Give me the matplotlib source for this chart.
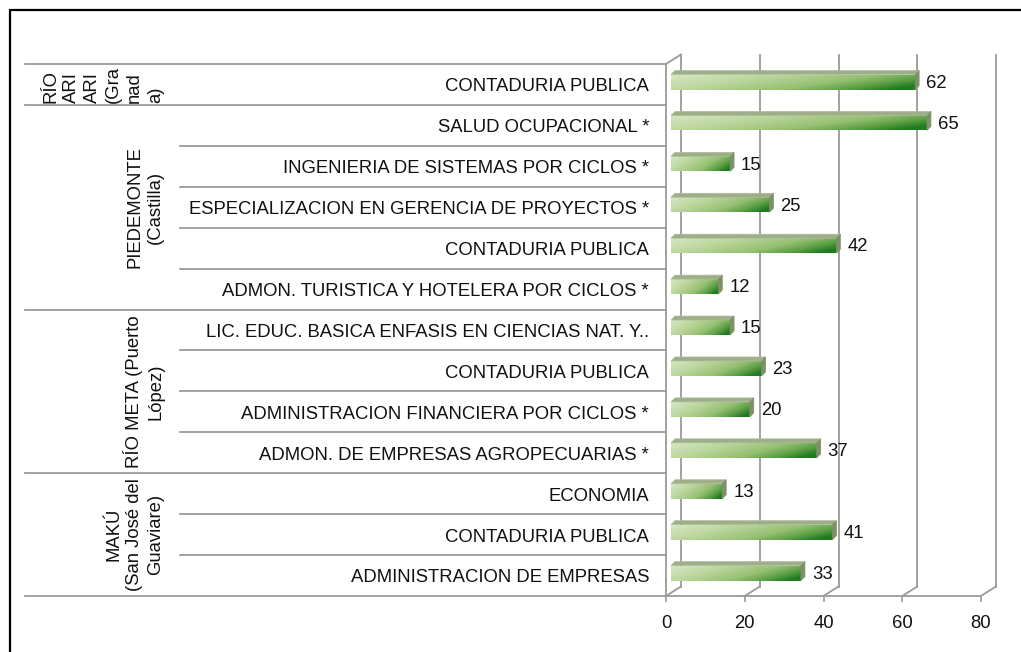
import numpy as np
import matplotlib
matplotlib.use("Agg")
import matplotlib.pyplot as plt
from matplotlib.colors import LinearSegmentedColormap
from matplotlib.patches import Polygon, Rectangle
from matplotlib.lines import Line2D

plt.rcParams["font.family"] = ["Liberation Sans", "DejaVu Sans"]

# datos (de arriba hacia abajo)
programas = [
    "CONTADURIA PUBLICA",
    "SALUD OCUPACIONAL *",
    "INGENIERIA DE SISTEMAS POR CICLOS *",
    "ESPECIALIZACION EN GERENCIA DE PROYECTOS *",
    "CONTADURIA PUBLICA",
    "ADMON. TURISTICA Y HOTELERA POR CICLOS *",
    "LIC. EDUC. BASICA ENFASIS EN CIENCIAS NAT. Y..",
    "CONTADURIA PUBLICA",
    "ADMINISTRACION FINANCIERA POR CICLOS *",
    "ADMON. DE EMPRESAS AGROPECUARIAS *",
    "ECONOMIA",
    "CONTADURIA PUBLICA",
    "ADMINISTRACION DE EMPRESAS",
]
valores = [62, 65, 15, 25, 42, 12, 15, 23, 20, 37, 13, 41, 33]
sedes = [
    "RÍO\nARI\nARI\n(Gra\nnad\na)",
    "PIEDEMONTE\n(Castilla)",
    "RÍO META (Puerto\nLópez)",
    "MAKÚ\n(San José del\nGuaviare)",
]
programas_por_sede = [1, 5, 4, 3]
ticks_x = [0, 20, 40, 60, 80]

W, H = 1021, 652
fig = plt.figure(figsize=(W / 100, H / 100), dpi=100)

# plano frontal del grafico en pixeles
x0_px, x1_px, y0_px, y1_px = 666, 981, 64, 596
ax = fig.add_axes([x0_px / W, 1 - y1_px / H, (x1_px - x0_px) / W, (y1_px - y0_px) / H])
n = len(programas)
for s in ax.spines.values():
    s.set_visible(False)
ax.set_yticks([])
ax.set_xticks(ticks_x)
ax.tick_params(axis="x", length=4, width=1.2, color="#999999", pad=10,
               labelsize=13.3, labelcolor="#111111")

px_x = (x1_px - x0_px) / 80.0
px_y = (y1_px - y0_px) / n
dx, dy = 15 / px_x, -9.5 / px_y  # profundidad del 3D
gris = "#9a9a9a"
lw = 1.3

# paredes y lineas de cuadricula
for t in ticks_x:
    ax.add_line(Line2D([t + dx, t + dx], [-0.5 + dy, n - 0.5 + dy], color=gris, lw=lw, clip_on=False))
    ax.add_line(Line2D([t + dx, t], [n - 0.5 + dy, n - 0.5], color=gris, lw=lw, clip_on=False))
ax.add_line(Line2D([0, 0], [-0.5, n - 0.5], color=gris, lw=lw, clip_on=False))
ax.add_line(Line2D([0, dx], [-0.5, -0.5 + dy], color=gris, lw=lw, clip_on=False))
ax.add_line(Line2D([0, 80], [n - 0.5, n - 0.5], color=gris, lw=lw, clip_on=False))

# barras con degradado
ini = 5 / px_x
alto = 15 / px_y
desp = -0.06
bars = ax.barh(np.arange(n) + desp, valores, left=ini, height=alto, color="none", zorder=3)
cmap = LinearSegmentedColormap.from_list(
    "verde", [(0.0, "#d6e7c4"), (0.35, "#b9d59a"), (0.65, "#96c073"),
              (0.85, "#5c9f45"), (1.0, "#217a22")])
gx = np.linspace(0, 1, 200)
gy = np.linspace(0, 1, 20)
GX, GY = np.meshgrid(gx, gy)
grad = np.clip(0.78 * GX + 0.3 * GY, 0, 1)
tx, ty = 4 / px_x, -4 / px_y
for b, v in zip(bars, valores):
    x, y, w, h = b.get_x(), b.get_y(), b.get_width(), b.get_height()
    ax.imshow(grad, cmap=cmap, aspect="auto", extent=(x, x + w, y + h, y),
              zorder=3, interpolation="bilinear", vmin=0, vmax=1)
    top = Polygon([(x, y), (x + w, y), (x + w + tx, y + ty), (x + tx, y + ty)],
                  closed=True, facecolor="#9dae88", edgecolor="#aebd9a", lw=0.5,
                  zorder=3, clip_on=False)
    lado = Polygon([(x + w, y), (x + w + tx, y + ty), (x + w + tx, y + h + ty), (x + w, y + h)],
                   closed=True, facecolor="#7d9169", edgecolor="#7d9169", lw=0.5,
                   zorder=3, clip_on=False)
    ax.add_patch(top)
    ax.add_patch(lado)
    ax.text(x + w + tx + 7 / px_x, b.get_y() + h / 2 + 0.03, f"{v}", ha="left", va="center",
            fontsize=13.3, color="#111111", zorder=4)
ax.set_xlim(0, 80)
ax.set_ylim(n - 0.5, -0.5)

# etiquetas de categorias y sedes
tr = ax.get_yaxis_transform()
fr = lambda p: (p - x0_px) / (x1_px - x0_px)
for i, p in enumerate(programas):
    ax.text(fr(649), i + 0.06, p, transform=tr, ha="right", va="center",
            fontsize=13.3, color="#111111", clip_on=False)

inicio = 0
ax.add_line(Line2D([fr(25), 0], [-0.5, -0.5], transform=tr, color=gris, lw=lw, clip_on=False))
for sede, k in zip(sedes, programas_por_sede):
    fin = inicio + k
    ax.add_line(Line2D([fr(25), 0], [fin - 0.5, fin - 0.5], transform=tr, color=gris, lw=lw, clip_on=False))
    for j in range(inicio + 1, fin):
        ax.add_line(Line2D([fr(180), 0], [j - 0.5, j - 0.5], transform=tr, color=gris, lw=lw, clip_on=False))
    alin = "left" if k == 1 else "center"
    ax.text(fr(164), (inicio + fin - 1) / 2, sede, transform=tr, rotation=90,
            ha="right", va="center", multialignment=alin, fontsize=13.3,
            color="#111111", linespacing=1.3, clip_on=False)
    inicio = fin

# marco exterior
fig.add_artist(Rectangle((9.5 / W, -0.1), 1.2, 1.1 - 9.5 / H, transform=fig.transFigure,
                         fill=False, edgecolor="black", lw=1.6))

fig.savefig("out.png", dpi=100, facecolor="white")
